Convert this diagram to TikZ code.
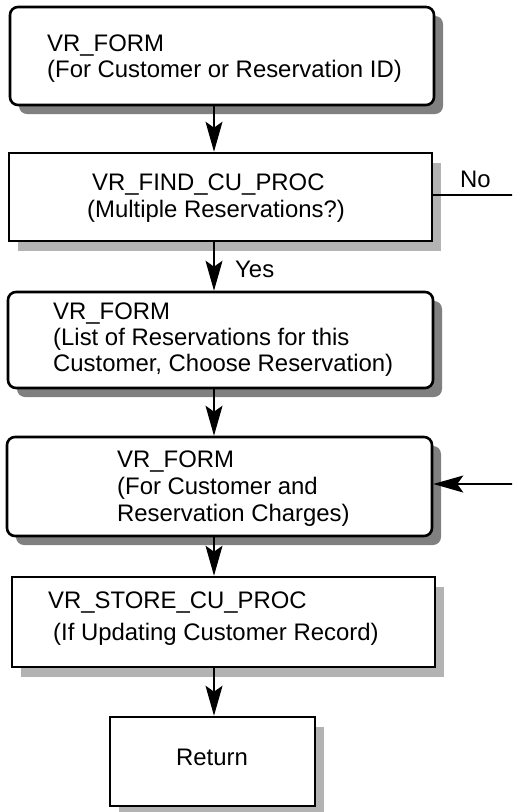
\documentclass[tikz,border=0pt]{standalone}
\usepackage{fontspec}
\setmainfont{Liberation Sans}
\usetikzlibrary{arrows.meta,shadows}
\definecolor{darkshadow}{HTML}{808080}
\definecolor{lightshadow}{HTML}{B3B3B3}
\tikzset{
  box/.style={draw, line width=2.6pt, fill=white, inner sep=0pt},
  sharpbox/.style={box, general shadow={fill=lightshadow, shadow xshift=9pt, shadow yshift=-10pt}},
  roundbox/.style={box, rounded corners=8pt, general shadow={fill=darkshadow, shadow xshift=9pt, shadow yshift=-9pt}},
  txt/.style={anchor=base west, inner sep=0pt, font=\fontsize{23.9}{26}\selectfont},
  conn/.style={line width=1.4pt, -{Stealth[length=30pt,width=17pt,inset=6pt]}},
  plain/.style={line width=1.4pt}
}
\begin{document}
\begin{tikzpicture}[x=1pt,y=-1pt]
\useasboundingbox (0,0) rectangle (512,812);
\clip (0,0) rectangle (512,812);
\coordinate (col) at (214,0);

% boxes
\node[roundbox, minimum width=424pt, minimum height=98pt] (b1) at (222,56) {};
\node[sharpbox, minimum width=423pt, minimum height=88pt] (b2) at (220.5,197) {};
\node[roundbox, minimum width=425pt, minimum height=96pt] (b3) at (220.5,340) {};
\node[roundbox, minimum width=425pt, minimum height=99pt] (b4) at (219.5,486.5) {};
\node[sharpbox, minimum width=423pt, minimum height=90pt] (b5) at (223.5,622) {};
\node[sharpbox, minimum width=205pt, minimum height=89pt] (b6) at (212.5,761.5) {};

% texts
\node[txt] (t1a) at (47,51) {VR\_FORM};
\node[txt] (t1b) at (47,77) {(For Customer or Reservation ID)};
\node[txt] (t2a) at (92,190) {VR\_FIND\_CU\_PROC};
\node[txt] (t2b) at (87,217) {(Multiple Reservations?)};
\node[txt] (t3a) at (53,319) {VR\_FORM};
\node[txt] (t3b) at (53,345) {(List of Reservations for this};
\node[txt] (t3c) at (53,371) {Customer, Choose Reservation)};
\node[txt] (t4a) at (117,467) {VR\_FORM};
\node[txt] (t4b) at (117,494) {(For Customer and};
\node[txt] (t4c) at (117,521) {Reservation Charges)};
\node[txt] (t5a) at (48,608) {VR\_STORE\_CU\_PROC};
\node[txt] (t5b) at (53,640) {(If Updating Customer Record)};
\node[txt, anchor=base] (t6) at (212,765) {Return};

% connectors
\draw[conn] (b1.south -| col) -- (b2.north -| col);
\draw[conn] (b2.south -| col) -- (b3.north -| col);
\draw[conn] (b3.south -| col) -- (b4.north -| col);
\draw[conn] (b4.south -| col) -- (b5.north -| col);
\draw[conn] (b5.south -| col) -- (b6.north -| col);
\node[txt] (yes) at (235,277) {Yes};

\coordinate (noEnd) at (514,195);
\draw[plain] (b2.east |- noEnd) -- (noEnd);
\node[txt] (no) at (460,187) {No};

\coordinate (backStart) at (514,484);
\draw[conn] (backStart) -- (b4.east |- backStart);
\end{tikzpicture}
\end{document}
